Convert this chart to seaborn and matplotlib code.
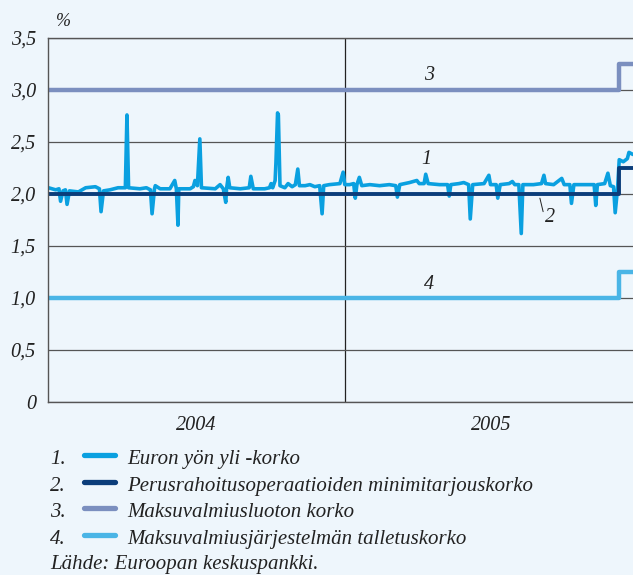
import pandas as pd
import seaborn as sns
import matplotlib.pyplot as plt
import matplotlib.dates as mdates
from matplotlib.lines import Line2D

# Euron yön yli -korko, luettu kuvasta (päivä, %)
eonia_dates = [
    '2004-01-01', '2004-01-10', '2004-01-14', '2004-01-16', '2004-01-19', '2004-01-22', '2004-01-24',
    '2004-01-27', '2004-02-07', '2004-02-16', '2004-02-28', '2004-03-04', '2004-03-06', '2004-03-09',
    '2004-03-17', '2004-03-27', '2004-04-05', '2004-04-07', '2004-04-09', '2004-04-23', '2004-05-01',
    '2004-05-06', '2004-05-08', '2004-05-11', '2004-05-12', '2004-05-18', '2004-05-30', '2004-06-05',
    '2004-06-07', '2004-06-09', '2004-06-10', '2004-06-24', '2004-06-28', '2004-06-30', '2004-07-03',
    '2004-07-06', '2004-07-08', '2004-07-25', '2004-07-31', '2004-08-04', '2004-08-07', '2004-08-08',
    '2004-08-10', '2004-08-12', '2004-08-25', '2004-09-05', '2004-09-07', '2004-09-10', '2004-09-24',
    '2004-09-30', '2004-10-02', '2004-10-04', '2004-10-07', '2004-10-08', '2004-10-10', '2004-10-11',
    '2004-10-13', '2004-10-19', '2004-10-23', '2004-10-28', '2004-11-01', '2004-11-04', '2004-11-06',
    '2004-11-13', '2004-11-19', '2004-11-25', '2004-12-01', '2004-12-04', '2004-12-06', '2004-12-13',
    '2004-12-26', '2004-12-30', '2005-01-01',
    '2005-01-07', '2005-01-12', '2005-01-14', '2005-01-16', '2005-01-19', '2005-01-22', '2005-02-01',
    '2005-02-13', '2005-02-25', '2005-03-05', '2005-03-07', '2005-03-10', '2005-03-22', '2005-03-31',
    '2005-04-03', '2005-04-09', '2005-04-11', '2005-04-14', '2005-04-28', '2005-05-08', '2005-05-10',
    '2005-05-12', '2005-05-22', '2005-05-28', '2005-06-03', '2005-06-05', '2005-06-08', '2005-06-22',
    '2005-06-28', '2005-06-30', '2005-07-07', '2005-07-09', '2005-07-12', '2005-07-23', '2005-07-27',
    '2005-07-30', '2005-08-04', '2005-08-07', '2005-08-09', '2005-08-22', '2005-09-01', '2005-09-04',
    '2005-09-06', '2005-09-16', '2005-09-26', '2005-09-29', '2005-10-06', '2005-10-08', '2005-10-11',
    '2005-10-23', '2005-11-05', '2005-11-07', '2005-11-09', '2005-11-18', '2005-11-22', '2005-11-25',
    '2005-11-29', '2005-12-01', '2005-12-04', '2005-12-06', '2005-12-11', '2005-12-16', '2005-12-18',
    '2005-12-23',
]
eonia_values = [
    2.06, 2.04, 2.05, 1.93, 2.03, 2.04, 1.90,
    2.03, 2.02, 2.06, 2.07, 2.05, 1.83, 2.03,
    2.04, 2.06, 2.06, 2.76, 2.06, 2.05, 2.06,
    2.04, 1.81, 2.05, 2.08, 2.05, 2.05, 2.13,
    2.05, 1.70, 2.05, 2.05, 2.07, 2.13, 2.08,
    2.53, 2.06, 2.05, 2.09, 2.05, 1.92, 2.05,
    2.16, 2.06, 2.05, 2.06, 2.17, 2.05, 2.05,
    2.06, 2.10, 2.06, 2.13, 2.30, 2.78, 2.76,
    2.08, 2.06, 2.10, 2.07, 2.09, 2.24, 2.08,
    2.08, 2.09, 2.07, 2.08, 1.81, 2.08, 2.09,
    2.10, 2.21, 2.09,
    2.09, 2.10, 1.96, 2.09, 2.16, 2.08, 2.09,
    2.08, 2.09, 2.08, 1.97, 2.09, 2.11, 2.13,
    2.10, 2.10, 2.19, 2.10, 2.09, 2.09, 1.98,
    2.09, 2.10, 2.11, 2.09, 1.76, 2.09, 2.10,
    2.18, 2.09, 2.09, 1.96, 2.09, 2.10, 2.12,
    2.09, 2.09, 1.62, 2.09, 2.09, 2.10, 2.18,
    2.10, 2.09, 2.15, 2.09, 2.09, 1.91, 2.09,
    2.09, 2.09, 1.89, 2.09, 2.10, 2.20, 2.08,
    2.07, 1.82, 2.06, 2.33, 2.31, 2.34, 2.40,
    2.38,
]

# ohjauskorot
policy_dates = ['2004-01-01', '2005-12-06', '2005-12-23']
mro_rate = [2.00, 2.25, 2.25]
lending_rate = [3.00, 3.25, 3.25]
deposit_rate = [1.00, 1.25, 1.25]

ytick_vals = [0, 0.5, 1.0, 1.5, 2.0, 2.5, 3.0, 3.5]
ytick_labels = ['0', '0,5', '1,0', '1,5', '2,0', '2,5', '3,0', '3,5']
year_ticks = ['2004-07-01', '2005-07-01']
year_labels = ['2004', '2005']

legend_labels = ['Euron yön yli -korko',
                 'Perusrahoitusoperaatioiden minimitarjouskorko',
                 'Maksuvalmiusluoton korko',
                 'Maksuvalmiusjärjestelmän talletuskorko']
source_text = 'Lähde: Euroopan keskuspankki.'

bg = '#EEF6FC'
c_eonia = '#0AA0E0'
c_mro = '#0B3D7A'
c_lend = '#7B8FBF'
c_dep = '#4AB5E6'
grid_c = '#555555'
text_c = '#222222'

sns.set_style('white', {'axes.facecolor': bg, 'figure.facecolor': bg})
plt.rcParams['font.family'] = ['Liberation Serif', 'DejaVu Serif']
plt.rcParams['font.style'] = 'italic'

eonia = pd.DataFrame({'pvm': pd.to_datetime(eonia_dates), 'korko': eonia_values})
policy = pd.DataFrame({'pvm': pd.to_datetime(policy_dates), 'mro': mro_rate,
                       'lend': lending_rate, 'dep': deposit_rate})

fig = plt.figure(figsize=(6.33, 5.75), dpi=100)
ax = fig.add_axes([0.0765, 0.3009, 0.9235, 0.633])

sns.lineplot(data=policy, x='pvm', y='lend', ax=ax, color=c_lend, lw=3.2,
             drawstyle='steps-post', estimator=None)
sns.lineplot(data=policy, x='pvm', y='dep', ax=ax, color=c_dep, lw=3.2,
             drawstyle='steps-post', estimator=None)
sns.lineplot(data=eonia, x='pvm', y='korko', ax=ax, color=c_eonia, lw=2.6, estimator=None)
sns.lineplot(data=policy, x='pvm', y='mro', ax=ax, color=c_mro, lw=2.8,
             drawstyle='steps-post', estimator=None)

ax.axvline(pd.Timestamp('2005-01-01'), color=text_c, lw=0.9, zorder=0.5)

ax.set_xlim(pd.Timestamp('2004-01-01'), pd.Timestamp('2005-12-23'))
ax.set_ylim(0, 3.5)
ax.set_yticks(ytick_vals)
ax.set_yticklabels(ytick_labels)
ax.set_xticks(pd.to_datetime(year_ticks))
ax.set_xticklabels(year_labels)
ax.xaxis.set_minor_locator(mdates.MonthLocator())
ax.tick_params(axis='x', which='major', length=0, pad=10, labelsize=14.5, labelcolor=text_c)
ax.tick_params(axis='x', which='minor', direction='in', length=5, width=0.8, color=grid_c)
ax.tick_params(axis='y', length=0, pad=9, labelsize=14.5, labelcolor=text_c)
ax.yaxis.grid(True, color=grid_c, lw=0.9)
ax.set_axisbelow(True)
ax.set_xlabel('')
ax.set_ylabel('')
for side in ['left', 'bottom', 'top']:
    ax.spines[side].set_color(grid_c)
    ax.spines[side].set_linewidth(1.0)
ax.spines['right'].set_visible(False)

# sarjojen numerot
ax.text(pd.Timestamp('2005-04-15'), 3.14, '3', fontsize=14.5, color=text_c, ha='center', va='center')
ax.text(pd.Timestamp('2005-04-12'), 2.33, '1', fontsize=14.5, color=text_c, ha='center', va='center')
ax.text(pd.Timestamp('2005-04-15'), 1.13, '4', fontsize=14.5, color=text_c, ha='center', va='center')
ax.text(pd.Timestamp('2005-09-12'), 1.77, '2', fontsize=14.5, color=text_c, ha='center', va='center')
ax.plot([pd.Timestamp('2005-08-30'), pd.Timestamp('2005-09-03')], [1.96, 1.83], color=text_c, lw=0.7)

fig.text(63 / 633, 1 - 22 / 575, '%', fontsize=13, color=text_c, ha='center', va='center')

# selite
colors = [c_eonia, c_mro, c_lend, c_dep]
rows = [457, 484, 510, 537]
for i, (lab, col, yy) in enumerate(zip(legend_labels, colors, rows)):
    yf = 1 - yy / 575
    fig.text(50 / 633, yf, f'{i + 1}.', fontsize=15, color=text_c, va='center_baseline', ha='left')
    fig.add_artist(Line2D([84 / 633, 115 / 633], [yf + 2 / 575, yf + 2 / 575], color=col, lw=3.8,
                          solid_capstyle='round', transform=fig.transFigure))
    fig.text(127 / 633, yf, lab, fontsize=15, color=text_c, va='center_baseline', ha='left')
fig.text(50 / 633, 1 - 562 / 575, source_text, fontsize=15, color=text_c,
         va='center_baseline', ha='left')

fig.savefig('out.png', dpi=100, facecolor=bg)
